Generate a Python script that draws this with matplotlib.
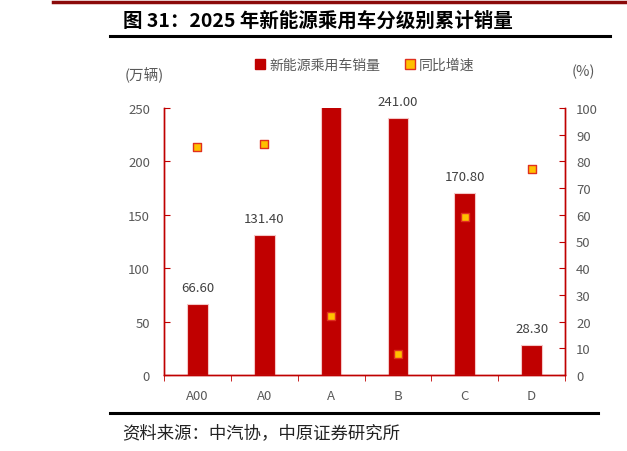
import matplotlib

matplotlib.use("Agg")
import matplotlib.pyplot as plt
import numpy as np
from matplotlib.lines import Line2D
from matplotlib.patches import Patch

plt.rcParams["font.family"] = ["Noto Sans CJK SC", "DejaVu Sans"]

# data
categories = ["A00", "A0", "A", "B", "C", "D"]
sales = [66.6, 131.4, 262.0, 241.0, 170.8, 28.3]  # 万辆; A is cut off at the top
growth = [85.4, 86.5, 22.1, 7.9, 59.2, 77.2]  # %

RED = "#C00000"
GREY = "#595959"

fig = plt.figure(figsize=(6.27, 4.52), dpi=100)
ax = fig.add_axes([164 / 627, 1 - 376 / 452, 401 / 627, 267 / 452])
ax2 = ax.twinx()

x = np.arange(len(categories))
bars = ax.bar(x, sales, width=0.31, color=RED, edgecolor="#F4C7C7", linewidth=0.8, zorder=2)
ax.set_xlim(-0.5, len(categories) - 0.5)
ax.set_ylim(0, 250)
ax.set_yticks(np.arange(0, 251, 50))

for rect, v in zip(bars, sales):
    if v <= 250:
        ax.annotate(f"{v:.2f}", (rect.get_x() + rect.get_width() / 2, v),
                    xytext=(0, 7), textcoords="offset points",
                    ha="center", va="bottom", fontsize=9.5, color="#404040")

ax2.scatter(x, growth, marker="s", s=40, facecolor="#FFC000", edgecolor="#E0301E",
            linewidth=1.0, zorder=3)
ax2.set_ylim(0, 100)
ax2.set_yticks(np.arange(0, 101, 10))

# axes styling
for a in (ax, ax2):
    a.spines["top"].set_visible(False)
    for side in ("left", "right", "bottom"):
        a.spines[side].set_color(RED)
        a.spines[side].set_linewidth(1.0)
ax.tick_params(axis="y", direction="in", length=4, color=RED, labelcolor=GREY,
               labelsize=9.5, pad=10)
ax2.tick_params(axis="y", direction="in", length=4, color=RED, labelcolor=GREY,
                labelsize=9.5, pad=8)
ax.set_xticks(x)
ax.set_xticklabels(categories)
ax.set_xticks(np.arange(-0.5, len(categories)), minor=True)
ax.tick_params(axis="x", which="major", length=0, labelcolor=GREY, labelsize=9.5, pad=10)
ax.tick_params(axis="x", which="minor", direction="out", length=4, color=RED)

# unit labels
fig.text(125 / 627, 1 - 75 / 452, "(万辆)", fontsize=10.5, color=GREY, va="center", ha="left")
fig.text(595 / 627, 1 - 72 / 452, "(%)", fontsize=10.5, color=GREY, va="center", ha="right")

# legend
handles = [
    Patch(facecolor=RED, edgecolor=RED),
    Line2D([], [], marker="s", linestyle="none", markersize=7,
           markerfacecolor="#FFC000", markeredgecolor="#E0301E"),
]
fig.legend(handles, ["新能源乘用车销量", "同比增速"], loc="center",
           bbox_to_anchor=(365 / 627, 1 - 66 / 452), ncol=2, frameon=False,
           fontsize=10, labelcolor=GREY, handlelength=0.7, handleheight=0.7,
           handletextpad=0.3, columnspacing=1.8)

# report frame: title, rules, source
fig.add_artist(Line2D([53 / 627, 1], [1 - 3 / 452] * 2, color="#8B0A0A", linewidth=2.5))
fig.text(123 / 627, 1 - 21 / 452, "图 31：2025 年新能源乘用车分级别累计销量",
         fontsize=14, fontweight="bold", color="black", va="center", ha="left")
fig.add_artist(Line2D([110 / 627, 610 / 627], [1 - 37 / 452] * 2, color="black", linewidth=2.2))
fig.add_artist(Line2D([110 / 627, 598 / 627], [1 - 414 / 452] * 2, color="black", linewidth=2.2))
fig.text(122 / 627, 1 - 433 / 452, "资料来源：中汽协，中原证券研究所",
         fontsize=12.5, color="#222222", va="center", ha="left")

fig.savefig("out.png", dpi=100)
